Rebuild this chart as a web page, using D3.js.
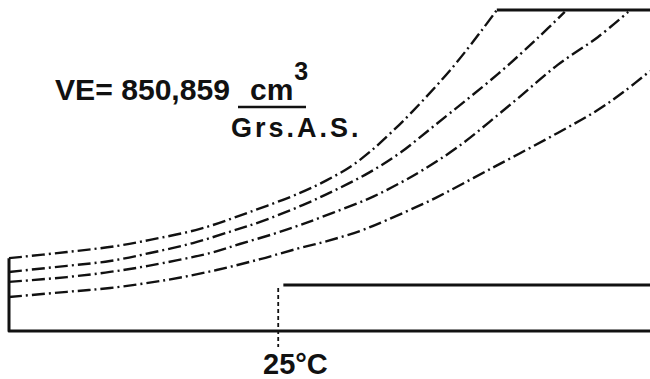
<!DOCTYPE html>
<html>
<head>
<meta charset="utf-8">
<script src="https://cdn.jsdelivr.net/npm/d3@7"></script>
<style>
  html, body { margin: 0; padding: 0; background: #fff; }
  svg { display: block; }
  text { font-family: "Liberation Sans", Arial, sans-serif; font-weight: bold; fill: #111; }
</style>
</head>
<body>
<div class="js-chart"></div>
<script>
// chart units: x 0..100 across the frame, y 0..100 from base line to top line
var curve1 = [[0, 22.7], [9.05, 24.6], [16.85, 26.5], [22, 28.4], [29.8, 31.8], [37.6, 37.1], [45.4, 43],
  [49.6, 47], [53.2, 51.1], [56.3, 55.8], [59.4, 61.4], [63, 68.5], [69.1, 81.9], [73.8, 93.8], [76.1, 100]];
var curve2 = [[0, 18.4], [9.05, 20.3], [15.76, 21.8], [22, 24.3], [28.7, 27.4], [34.9, 31.2], [39.2, 34],
  [45.9, 39.3], [51.2, 44.2], [56.3, 49.5], [61, 55.5], [66.5, 64.2], [76.3, 80.1], [82.5, 91.3], [86.7, 99.4]];
var curve3 = [[0, 15.3], [9.05, 16.8], [15.76, 18.4], [21.7, 20.3], [31.4, 24.3], [36, 27.1], [41.2, 30.2],
  [45.4, 33], [50.5, 36.8], [56.3, 41.4], [61, 46.1], [64.6, 50.2], [70, 57.3], [78.5, 71], [85.6, 82.9],
  [91.9, 91.6], [96.6, 99.4]];
var curve4 = [[0, 10.6], [9.05, 12.2], [15.76, 13.4], [24.6, 15.9], [32.4, 19], [39.2, 22.4], [44.9, 25.6],
  [49.6, 28], [54.8, 31.2], [59, 34.6], [64.6, 39.6], [66.5, 41.4], [75.4, 50.8], [85.6, 61.7], [91.9, 68.9],
  [96.1, 74.8], [100, 81]];
var curves = [curve1, curve2, curve3, curve4];

var TOP_LEVEL = 100;      // upper plateau line
var TOP_START = 76.1;
var LOW_LEVEL = 14.3;     // lower plateau line after 25°C
var T25 = 42;             // 25°C mark
var T25_LABEL = '25°C';

var width = 650;
var height = 379;

var x = d3.scaleLinear().domain([0, 100]).range([9, 650]);
var y = d3.scaleLinear().domain([0, 100]).range([331, 10]);

var svg = d3.select('.js-chart')
  .append('svg')
  .attr('width', width)
  .attr('height', height);

var line = d3.line()
  .x(function (d) { return x(d[0]); })
  .y(function (d) { return y(d[1]); })
  .curve(d3.curveCatmullRom.alpha(0.5));

// dash-dot curves
svg.selectAll('.curve')
  .data(curves)
  .enter()
  .append('path')
  .attr('class', 'curve')
  .attr('d', line)
  .attr('fill', 'none')
  .attr('stroke', '#111')
  .attr('stroke-width', 2.4)
  .attr('stroke-dasharray', '13,4,2,4');

// frame: left edge down to base line, then across
svg.append('path')
  .attr('d', line.curve(d3.curveLinear)([[0, curve1[0][1]], [0, 0], [100, 0]]))
  .attr('fill', 'none')
  .attr('stroke', '#111')
  .attr('stroke-width', 3)
  .attr('stroke-linejoin', 'round');

// top plateau
svg.append('line')
  .attr('x1', x(TOP_START)).attr('x2', x(100))
  .attr('y1', y(TOP_LEVEL)).attr('y2', y(TOP_LEVEL))
  .attr('stroke', '#111').attr('stroke-width', 3);

// lower plateau
svg.append('line')
  .attr('x1', x(T25 + 0.8)).attr('x2', x(100))
  .attr('y1', y(LOW_LEVEL)).attr('y2', y(LOW_LEVEL))
  .attr('stroke', '#111').attr('stroke-width', 3);

// 25°C marker
svg.append('line')
  .attr('x1', x(T25)).attr('x2', x(T25))
  .attr('y1', y(13.4)).attr('y2', y(-5))
  .attr('stroke', '#111').attr('stroke-width', 1.8)
  .attr('stroke-dasharray', '4,3');

svg.append('text')
  .attr('x', 263)
  .attr('y', 374)
  .style('font-size', '29px')
  .text(T25_LABEL);

// VE label
var label = svg.append('g');
label.append('text')
  .attr('x', 55)
  .attr('y', 100)
  .attr('textLength', 175)
  .attr('lengthAdjust', 'spacingAndGlyphs')
  .style('font-size', '30px')
  .text('VE= 850,859');
var unit = label.append('text')
  .attr('x', 250)
  .attr('y', 100)
  .style('font-size', '30px');
unit.append('tspan').text('cm');
unit.append('tspan')
  .attr('dx', 1)
  .attr('dy', -20)
  .style('font-size', '25px')
  .text('3');
label.append('line')
  .attr('x1', 238).attr('x2', 306)
  .attr('y1', 107).attr('y2', 107)
  .attr('stroke', '#111').attr('stroke-width', 2.5);
label.append('text')
  .attr('x', 231)
  .attr('y', 137)
  .style('font-size', '27px')
  .style('letter-spacing', '3px')
  .text('Grs.A.S.');
</script>
</body>
</html>
